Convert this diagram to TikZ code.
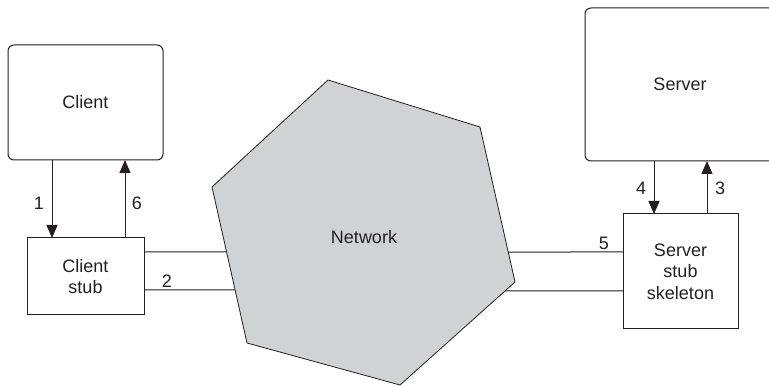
\documentclass[tikz,border=0pt]{standalone}
\usepackage{fontspec}
\setmainfont{Liberation Sans}
\usetikzlibrary{arrows.meta}
\definecolor{ink}{HTML}{231F20}
\definecolor{netgray}{HTML}{D1D2D4}
\begin{document}
\begin{tikzpicture}[x=1pt,y=-1pt,
  line width=1pt, draw=ink,
  txt/.style={text=ink,font=\fontsize{18}{21.5}\selectfont},
  host/.style={txt,draw=ink,rounded corners=6pt,inner sep=0pt,outer sep=0pt},
  stubbox/.style={txt,draw=ink,inner sep=0pt,outer sep=0pt,align=center},
  num/.style={txt,inner sep=0pt},
  arr/.style={draw=ink,-{Triangle[length=13pt,width=11pt]}},
  wire/.style={draw=ink}]
\useasboundingbox (0,0) rectangle (769,387);
\begin{scope}
\clip (0,0) rectangle (769,387);

% hosts
\node[host,minimum width=155pt,minimum height=115pt] (client) at (85.5,102.5) {Client};
\node[host,minimum width=190pt,minimum height=153pt] (server) at (680,84.5) {Server};

% stubs
\node[stubbox,minimum width=117pt,minimum height=77pt] (cstub) at (85.5,276.5) {Client\\stub};
\node[stubbox,minimum width=115pt,minimum height=115pt] (sstub) at (680.5,271.5) {Server\\stub\\skeleton};

% network hexagon corners
\coordinate (hT)  at (328,80);
\coordinate (hUR) at (480,127);
\coordinate (hR)  at (515,282);
\coordinate (hB)  at (400,385);
\coordinate (hLL) at (247,343);
\coordinate (hL)  at (212,187);

% wires between the stubs and the network
\coordinate (cw1) at (cstub.east |- 0,252);
\coordinate (cw2) at (cstub.east |- 0,290);
\coordinate (sw1) at (sstub.west |- 0,252);
\coordinate (sw2) at (sstub.west |- 0,291);
\draw[wire] (cw1) -- (intersection of cw1--{0,252} and hL--hLL);
\draw[wire] (cw2) -- (intersection of cw2--{0,290} and hL--hLL);
\draw[wire] (sw1) -- (intersection of sw1--{700,252} and hUR--hR);
\draw[wire] (sw2) -- (intersection of sw2--{700,291} and hR--hB);

% network
\draw[fill=netgray,line width=0.8pt] (hT) -- (hUR) -- (hR) -- (hB) -- (hLL) -- (hL) -- cycle;
\node[txt] (net) at (364,237) {Network};

% calls and returns
\draw[arr] (client.south -| 52,0) -- (cstub.north -| 52,0);
\draw[arr] (cstub.north -| 125,0) -- (client.south -| 125,0);
\draw[arr] (server.south -| 654,0) -- (sstub.north -| 654,0);
\draw[arr] (sstub.north -| 707,0) -- (server.south -| 707,0);

% step numbers
\node[num] (n1) at (39,203) {1};
\node[num] (n6) at (137,203) {6};
\node[num] (n2) at (167,281) {2};
\node[num] (n4) at (641,188) {4};
\node[num] (n3) at (720,188) {3};
\node[num] (n5) at (604,243) {5};
\end{scope}
\end{tikzpicture}
\end{document}
